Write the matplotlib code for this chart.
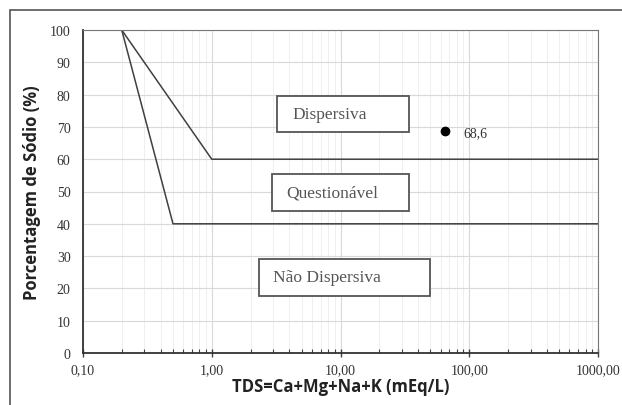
import numpy as np
import matplotlib.pyplot as plt
from matplotlib.patches import Rectangle
from matplotlib.ticker import FixedLocator, LogLocator, NullFormatter

# boundary lines (TDS, % Na)
upper_x = [0.2, 1.0, 1000.0]
upper_y = [100, 60, 60]
lower_x = [0.2, 0.5, 1000.0]
lower_y = [100, 40, 40]

# sample point
sample_x = [65.0]
sample_y = [68.6]
sample_label = "68,6"

xticks = [0.1, 1, 10, 100, 1000]
xtick_labels = ["0,10", "1,00", "10,00", "100,00", "1000,00"]
yticks = list(range(0, 101, 10))

# zone labels: box (x0, x1, y0, y1) and text anchor (left x, center y)
zones = ["Dispersiva", "Questionável", "Não Dispersiva"]
box_x0 = [3.21, 2.94, 2.33]
box_x1 = [34.0, 34.0, 49.6]
box_y0 = [68.4, 44.0, 17.6]
box_y1 = [79.6, 55.4, 29.1]
text_x = [4.2, 3.77, 2.99]
text_y = [74.0, 49.7, 23.4]

fig = plt.figure(figsize=(6.22, 4.06), dpi=100)
fig.patches.append(Rectangle((10 / 622, -0.1), 2, 1.1 - 11 / 406,
                             transform=fig.transFigure, fill=False,
                             edgecolor="#555555", linewidth=1.2))
ax = fig.add_axes([83 / 622, 1 - 354 / 406, 515 / 622, 323 / 406])

ax.set_xscale("log")
ax.set_xlim(0.1, 1000)
ax.set_ylim(0, 100)

ax.grid(True, which="major", color="#d9d9d9", linewidth=0.8)
ax.grid(True, which="minor", axis="x", color="#ececec", linewidth=0.6)
ax.set_axisbelow(True)

ax.plot(upper_x, upper_y, color="#404040", linewidth=1.1)
ax.plot(lower_x, lower_y, color="#404040", linewidth=1.1)
ax.plot(sample_x, sample_y, "o", color="black", markersize=6)
ax.annotate(sample_label, (sample_x[0], sample_y[0]), xytext=(13, -1),
            textcoords="offset points", va="center", fontsize=10,
            family="Liberation Serif", color="#333333")

for name, x0, x1, y0, y1, tx, ty in zip(zones, box_x0, box_x1, box_y0,
                                        box_y1, text_x, text_y):
    ax.add_patch(Rectangle((x0, y0), x1 - x0, y1 - y0, facecolor="white",
                           edgecolor="#555555", linewidth=1.3, zorder=3))
    ax.text(tx, ty, name, ha="left", va="center", fontsize=12.5,
            family="Liberation Serif", color="#555555", zorder=4)

ax.xaxis.set_major_locator(FixedLocator(xticks))
ax.set_xticklabels(xtick_labels)
ax.xaxis.set_minor_locator(LogLocator(base=10, subs=np.arange(2, 10)))
ax.xaxis.set_minor_formatter(NullFormatter())
ax.set_yticks(yticks)

ax.tick_params(axis="x", which="major", direction="inout", length=6,
               width=1, color="#404040", labelsize=10, pad=4)
ax.tick_params(axis="x", which="minor", direction="in", length=3,
               width=0.8, color="#404040")
ax.tick_params(axis="y", length=0, labelsize=10, pad=9)
for lab in ax.get_xticklabels() + ax.get_yticklabels():
    lab.set_family("Liberation Serif")
    lab.set_color("#333333")

for side in ["top", "right"]:
    ax.spines[side].set_color("#777777")
for side in ["left", "bottom"]:
    ax.spines[side].set_color("#333333")
    ax.spines[side].set_linewidth(1.3)

ax.set_xlabel("TDS=Ca+Mg+Na+K (mEq/L)", fontsize=12, fontweight="bold",
              family="Open Sans", color="#222222", labelpad=1)
ax.set_ylabel("Porcentagem de Sódio (%)", fontsize=12, fontweight="bold",
              family="Open Sans", color="#222222", labelpad=6)

fig.savefig("out.png", dpi=100)
